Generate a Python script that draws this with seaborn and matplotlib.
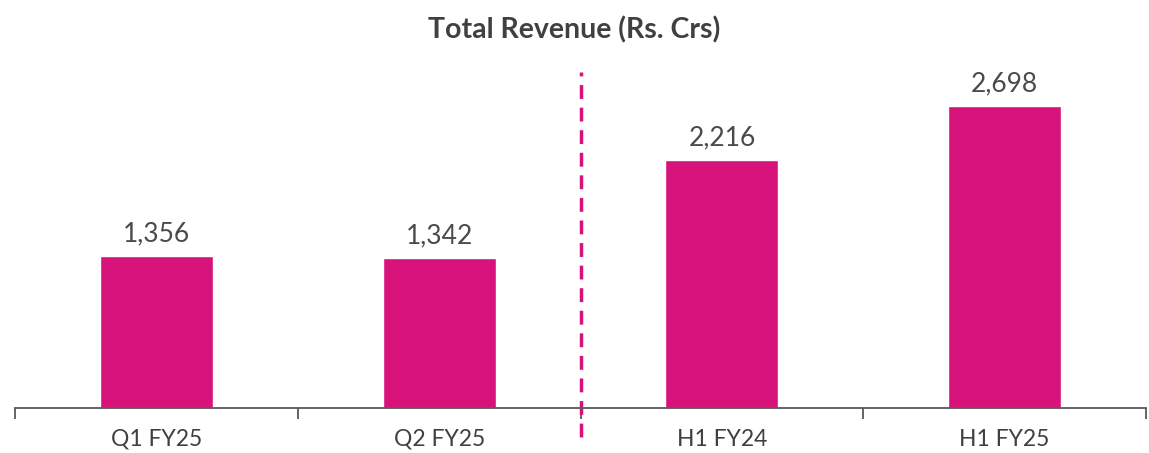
import matplotlib.pyplot as plt
import seaborn as sns
import pandas as pd

periods = ["Q1 FY25", "Q2 FY25", "H1 FY24", "H1 FY25"]
revenue = [1356, 1342, 2216, 2698]

BAR_COLOR = "#D8127B"
TEXT_COLOR = "#404040"

sns.set_style("white")
plt.rcParams["font.family"] = ["Lato", "DejaVu Sans"]

df = pd.DataFrame({"period": periods, "revenue": revenue})

fig = plt.figure(figsize=(11.49, 4.53), dpi=100)
ax = fig.add_axes([15 / 1149, 45 / 453, 1131 / 1149, 336 / 453])

sns.barplot(data=df, x="period", y="revenue", color=BAR_COLOR, width=0.4,
            saturation=1, ax=ax)

for i, v in enumerate(revenue):
    ax.text(i, v + 85, f"{v:,}", ha="center", va="bottom",
            fontsize=19, color="#4a4a4a")

# dashed separator between quarters and half-years
ax.plot([1.5, 1.5], [-260, 3000], ls=(0, (4, 2.5)), lw=2.5, color=BAR_COLOR,
        clip_on=False)

ax.set_xlim(-0.5, 3.5)
ax.set_ylim(0, 3000)
ax.set_xlabel("")
ax.set_ylabel("")
ax.set_yticks([])
for s in ["top", "right", "left"]:
    ax.spines[s].set_visible(False)
ax.spines["bottom"].set_color("#595959")
ax.spines["bottom"].set_linewidth(1.3)

ax.set_xticks([-0.5, 0.5, 1.5, 2.5, 3.5], minor=True)
ax.tick_params(axis="x", which="minor", length=8, width=1.3, color="#595959",
               direction="out", bottom=True)
ax.tick_params(axis="x", which="major", length=0, pad=15, labelsize=16.5,
               labelcolor=TEXT_COLOR)

fig.suptitle("Total Revenue (Rs. Crs)", y=0.965, fontsize=20.5,
             fontweight="bold", color=TEXT_COLOR)

fig.savefig("out.png", dpi=100)
